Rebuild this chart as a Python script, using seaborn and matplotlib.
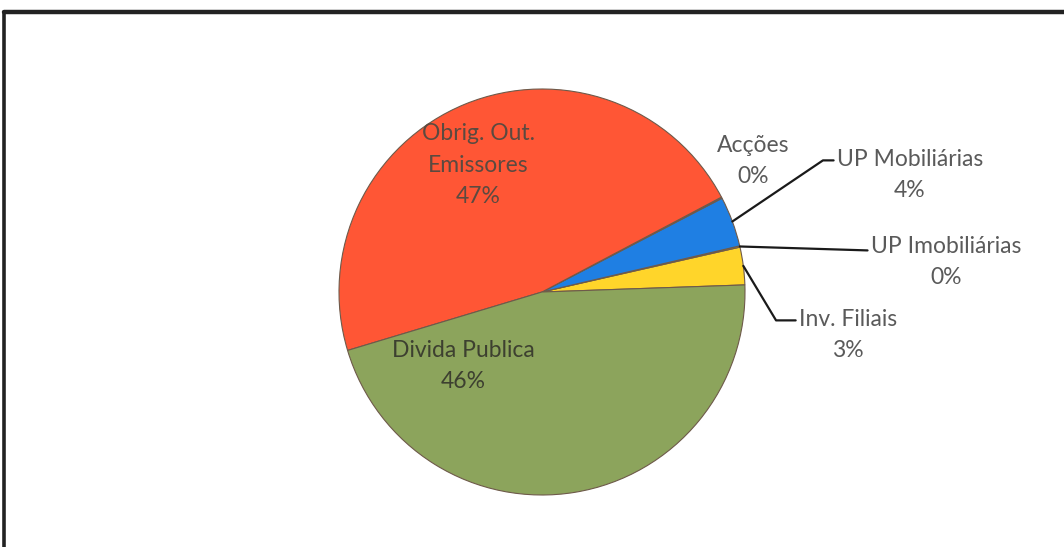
import numpy as np
import matplotlib
matplotlib.use("Agg")
import matplotlib.pyplot as plt
from matplotlib.lines import Line2D
import seaborn as sns

# data (counter-clockwise from the right edge)
labels = ["Inv. Filiais", "UP Imobiliárias", "UP Mobiliárias", "Acções",
          "Obrig. Out.\nEmissores", "Divida Publica"]
values = [3.0, 0.1, 4.0, 0.1, 47.0, 46.0]
pct_text = ["3%", "0%", "4%", "0%", "47%", "46%"]
colors = ["#FFD52A", "#FFD52A", "#1F7FE3", "#1F7FE3", "#FF5635", "#8CA45C"]

sns.set_theme(style="white")
plt.rcParams['font.family'] = ['Lato', 'DejaVu Sans']

W, H = 1064, 547
fig = plt.figure(figsize=(W / 100, H / 100), dpi=100)
fig.patch.set_facecolor("white")
ax = fig.add_axes([0, 0, 1, 1])

cx, cy, R = 542, H - 292, 203
wedges, _ = ax.pie(values, colors=colors, startangle=2, counterclock=True,
                   center=(cx, cy), radius=R, frame=True,
                   wedgeprops=dict(edgecolor="#6e5a4a", linewidth=0.8))
ax.set_xlim(0, W)
ax.set_ylim(0, H)
ax.set_aspect("auto")
ax.axis("off")

def wedge_point(w, r=1.0):
    a = np.deg2rad((w.theta1 + w.theta2) / 2)
    return cx + R * r * np.cos(a), cy + R * r * np.sin(a)

txt_col = "#5a5a5a"
fs = 16.5
ls = 1.6

# inner labels
ax.text(478, H - 165, labels[4] + "\n" + pct_text[4], ha="center", va="center",
        fontsize=fs, color="#5b4a40", linespacing=ls)
ax.text(463, H - 366, labels[5] + "\n" + pct_text[5], ha="center", va="center",
        fontsize=fs, color="#3d4030", linespacing=ls)

# Acções, no leader line
ax.text(753, H - 161, labels[3] + "\n" + pct_text[3], ha="center", va="center",
        fontsize=fs, color=txt_col, linespacing=ls)

line_kw = dict(arrowstyle="-", color="#1a1a1a", lw=1.6, shrinkA=0, shrinkB=0)

# UP Mobiliárias
ax.annotate(labels[2] + "\n" + pct_text[2], xy=wedge_point(wedges[2]),
            xytext=(910, H - 175), ha="center", va="center", fontsize=fs,
            color=txt_col, linespacing=ls,
            arrowprops=dict(relpos=(0, 0.78),
                            connectionstyle="angle,angleA=180,angleB=34,rad=0",
                            **line_kw))
# UP Imobiliárias
ax.annotate(labels[1] + "\n" + pct_text[1], xy=wedge_point(wedges[1]),
            xytext=(946, H - 262), ha="center", va="center", fontsize=fs,
            color=txt_col, linespacing=ls,
            arrowprops=dict(relpos=(0, 0.72), connectionstyle="arc3,rad=0",
                            **line_kw))
# Inv. Filiais
ax.annotate(labels[0] + "\n" + pct_text[0], xy=wedge_point(wedges[0]),
            xytext=(848, H - 335), ha="center", va="center", fontsize=fs,
            color=txt_col, linespacing=ls,
            arrowprops=dict(relpos=(0, 0.78),
                            connectionstyle="angle,angleA=180,angleB=-59,rad=0",
                            **line_kw))

# scanned frame: top and left border
fig.add_artist(Line2D([4 / W, 1], [1 - 12 / H, 1 - 12 / H], color="#222222",
                      lw=3.2, transform=fig.transFigure))
fig.add_artist(Line2D([4 / W, 4 / W], [0, 1 - 12 / H], color="#222222",
                      lw=2.6, transform=fig.transFigure))

fig.savefig("out.png", dpi=100, facecolor="white")
